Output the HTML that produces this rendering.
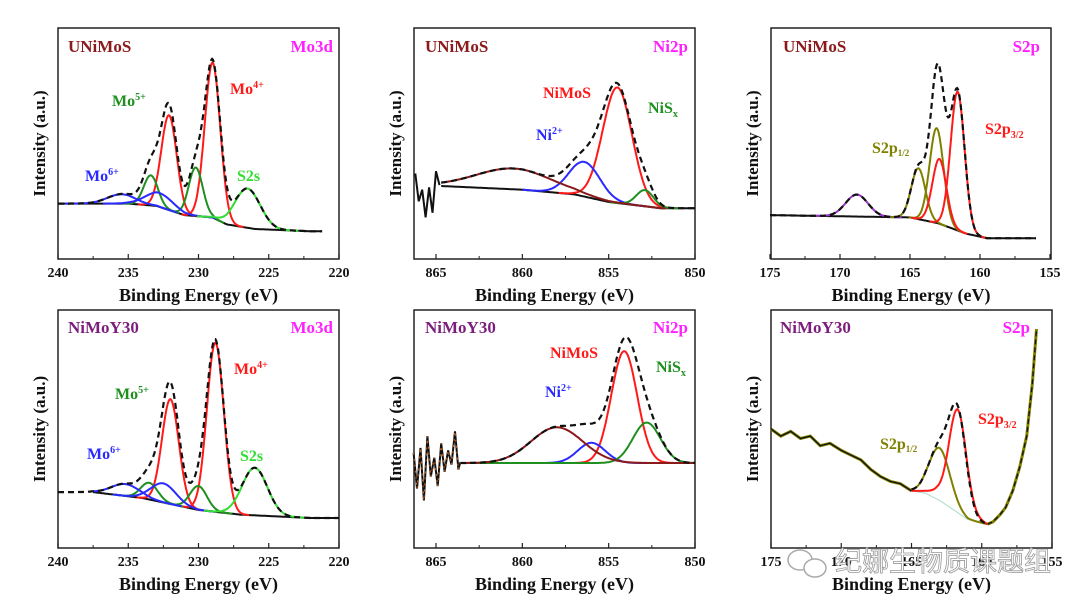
<!DOCTYPE html>
<html><head><meta charset="utf-8">
<style>
html,body{margin:0;padding:0;background:#fff;}
svg{display:block;}
text{font-family:"Liberation Serif","Noto Serif CJK SC",serif;font-weight:bold;}
</style></head>
<body>
<svg id="fig" width="1080" height="608" viewBox="0 0 1080 608" xmlns="http://www.w3.org/2000/svg"></svg>
<script>
// ===== Data (binding energy eV, normalized intensity 0..1) =====
const p1Ticks=[240,235,230,225,220];
const p1Baseline=[[240,0.24],[235,0.24],[233,0.23],[231,0.19],[229,0.18],[228,0.15],[226,0.13],[222,0.12],[221.2,0.12]];
const p1Centers=[229.0,232.1,233.4,230.2,235.5,232.8,226.5];
const p1Amps=[0.67,0.41,0.13,0.21,0.04,0.06,0.17];
const p1Sigmas=[0.55,0.55,0.5,0.5,1.0,1.0,0.9];

const p2Ticks=[865,860,855,850];
const p2Baseline=[[864.7,0.316],[860,0.30],[857,0.28],[855,0.247],[852,0.22],[850,0.22]];
const p2Centers=[854.5,856.4,852.9,860.5];
const p2Amps=[0.50,0.15,0.07,0.09];
const p2Sigmas=[0.85,0.9,0.5,2.2];

const p3Ticks=[175,170,165,160,155];
const p3Baseline=[[175,0.19],[165,0.18],[163,0.155],[161,0.11],[159.5,0.09],[156,0.09]];
const p3Centers=[168.8,164.4,163.1,162.9,161.6];
const p3Amps=[0.095,0.22,0.41,0.28,0.60];
const p3Sigmas=[0.8,0.5,0.5,0.5,0.5];

const p4Ticks=[240,235,230,225,220];
const p4Baseline=[[240,0.235],[237.5,0.235],[234,0.21],[230,0.16],[227,0.14],[222,0.126],[220,0.126]];
const p4Centers=[228.8,232.0,233.5,230.0,235.2,232.5,226.0];
const p4Amps=[0.71,0.44,0.07,0.10,0.05,0.08,0.20];
const p4Sigmas=[0.6,0.6,0.6,0.6,1.0,0.9,0.9];

const p5Ticks=[865,860,855,850];
const p5Baseline=[[863.6,0.357],[850,0.357]];
const p5Centers=[854.1,856.0,852.8,858.0];
const p5Amps=[0.47,0.085,0.17,0.15];
const p5Sigmas=[0.75,0.8,0.8,1.5];
const p5Noise=[[866.3,0.40],[866.1,0.25],[865.9,0.42],[865.7,0.20],[865.5,0.47],[865.3,0.30],[865.1,0.38],[864.9,0.26],[864.7,0.44],[864.5,0.32],[864.3,0.41],[864.1,0.35],[863.9,0.49],[863.7,0.33],[863.6,0.36]];

const p6Ticks=[175,170,165,160,155];
const p6Trace=[[175,0.50],[174.3,0.47],[173.6,0.49],[172.9,0.46],[172.2,0.47],[171.5,0.43],[170.8,0.44],[170,0.41],[169.3,0.39],[168.6,0.37],[167.9,0.33],[167.2,0.30],[166.5,0.28],[165.8,0.27],[165,0.24]];
const p6Rise=[[159.6,0.10],[159.2,0.11],[158.7,0.14],[158.3,0.17],[157.8,0.24],[157.3,0.34],[156.8,0.47],[156.4,0.69],[156.1,0.92]];
const p6Bg=[[165,0.24],[164,0.23],[163,0.20],[162,0.16],[161,0.12],[159.6,0.10]];
const p6RedBg=[[165,0.24],[163.2,0.24],[162.2,0.21],[161,0.14],[159.6,0.10]];
const p6Centers=[163.0,161.7];
const p6Amps=[0.22,0.40];
const p6Sigmas=[0.75,0.6];

// ===== helpers =====
const NS="http://www.w3.org/2000/svg";
const svg=document.getElementById('fig');
function mk(tag,attrs,parent){const e=document.createElementNS(NS,tag);for(const k in attrs)e.setAttribute(k,attrs[k]);(parent||svg).appendChild(e);return e;}
function interp(pts,x){const s=pts.slice().sort((a,b)=>a[0]-b[0]);if(x<=s[0][0])return s[0][1];if(x>=s[s.length-1][0])return s[s.length-1][1];for(let i=0;i<s.length-1;i++){if(x>=s[i][0]&&x<=s[i+1][0]){const t=(x-s[i][0])/(s[i+1][0]-s[i][0]);return s[i][1]+t*(s[i+1][1]-s[i][1]);}}return 0;}
function gauss(x,c,a,s){return a*Math.exp(-0.5*((x-c)/s)**2);}
function axes(P){return {X:e=>P.px0+(P.e0-e)/(P.e0-P.e1)*(P.px1-P.px0),Y:v=>P.by+P.bh-v*P.bh};}
function line(P,fn,e0,e1,style,name){const A=axes(P);let d='';const n=300;for(let i=0;i<=n;i++){const e=e0+(e1-e0)*i/n;d+=(i?'L':'M')+A.X(e).toFixed(1)+','+A.Y(fn(e)).toFixed(1);}const p=mk('path',Object.assign({d:d,fill:'none'},style),P.g);


return p;}
function poly(P,pts,style,name){const A=axes(P);const d=pts.map((p,i)=>(i?'L':'M')+A.X(p[0]).toFixed(1)+','+A.Y(p[1]).toFixed(1)).join('');const p=mk('path',Object.assign({d:d,fill:'none'},style),P.g);


return p;}
function txt(P,x,y,s,fill,size,anchor,name,sub){const t=mk('text',{x:x,y:y,fill:fill,'font-size':size,'text-anchor':anchor||'start'},P.g);t.textContent=s;


if(sub){const ts=mk('tspan',{'font-size':sub[2],dy:sub[1]},t);ts.textContent=sub[0];}return t;}
function frame(P,ticks,name){
  P.g=mk('g',{});
  
  
  const r=mk('rect',{x:P.bx,y:P.by,width:P.bw,height:P.bh,fill:'none',stroke:'#222','stroke-width':1.5},P.g);
  
  
  const A=axes(P);
  ticks.forEach(t=>{const x=A.X(t);
    const l=mk('line',{x1:x,x2:x,y1:P.by+P.bh,y2:P.by+P.bh-5,stroke:'#222','stroke-width':1.2},P.g);
    
    
    txt(P,x,P.by+P.bh+18,String(t),'#111',14,'middle','x-tick-label');
    const xm=A.X(t-(P.e0>P.e1?2.5:-2.5));
    if(xm>P.bx&&xm<P.bx+P.bw){const m=mk('line',{x1:xm,x2:xm,y1:P.by+P.bh,y2:P.by+P.bh-3,stroke:'#222','stroke-width':1},P.g);
      
      }
  });
  txt(P,P.bx+P.bw/2,P.by+P.bh+42,'Binding Energy (eV)','#111',18,'middle','x-axis-title');
  const yt=mk('text',{x:0,y:0,fill:'#111','font-size':17,'text-anchor':'middle',transform:`translate(${P.bx-13},${P.by+P.bh/2}) rotate(-90)`},P.g);
  yt.textContent='Intensity (a.u.)';
  
  
}
const black={stroke:'#111','stroke-width':2};
const dash={stroke:'#111','stroke-width':2.2,'stroke-dasharray':'6,4'};
function comp(col){return {stroke:col,'stroke-width':2};}

// ===== Panel 1 =====
(function(){
const P={bx:58,by:28,bw:281,bh:231,e0:240,e1:220,px0:58,px1:339};
frame(P,p1Ticks,'panel-unimos-mo3d');
const cols=['#ff1a1a','#ff1a1a','#1f8f1f','#1f8f1f','#2a2aff','#2a2aff','#33dd33'];
const bg=e=>interp(p1Baseline,e);
line(P,bg,240,221.2,black,'baseline');
p1Centers.forEach((c,i)=>line(P,e=>bg(e)+gauss(e,c,p1Amps[i],p1Sigmas[i]),Math.min(240,c+4*p1Sigmas[i]),Math.max(221.2,c-4*p1Sigmas[i]),comp(cols[i]),'fit-component'));
line(P,e=>bg(e)+p1Centers.reduce((s,c,i)=>s+gauss(e,c,p1Amps[i],p1Sigmas[i]),0),240,221.2,dash,'fit-envelope');
txt(P,68,52,'UNiMoS','#8b1a1a',17,'start','sample-label');
txt(P,333,52,'Mo3d','#ff22ff',17,'end','region-label');
txt(P,230,94,'Mo','#ff1a1a',16,'start','mo4-label',['4+',-6,10]);
txt(P,112,106,'Mo','#1f8f1f',16,'start','mo5-label',['5+',-6,10]);
txt(P,85,181,'Mo','#2a2aff',16,'start','mo6-label',['6+',-6,10]);
txt(P,237,181,'S2s','#33dd33',16,'start','s2s-label');
})();

// ===== Panel 2 =====
(function(){
const P={bx:414,by:28,bw:281,bh:231,e0:865,e1:850,px0:436,px1:695};
frame(P,p2Ticks,'panel-unimos-ni2p');
const cols=['#ff1a1a','#2a2aff','#1f8f1f','#8b1a1a'];
const bg=e=>interp(p2Baseline,e);
line(P,bg,864.7,850,black,'baseline');
p2Centers.forEach((c,i)=>line(P,e=>bg(e)+gauss(e,c,p2Amps[i],p2Sigmas[i]),Math.min(864.7,c+4*p2Sigmas[i]),Math.max(850,c-4*p2Sigmas[i]),comp(cols[i]),'fit-component'));
line(P,e=>bg(e)+p2Centers.reduce((s,c,i)=>s+gauss(e,c,p2Amps[i],p2Sigmas[i]),0),864.7,850,dash,'fit-envelope');
poly(P,[[866.2,0.37],[866,0.25],[865.8,0.30],[865.6,0.18],[865.4,0.31],[865.2,0.20],[865,0.38],[864.8,0.32]],{stroke:'#111','stroke-width':2},'raw-data-start');
txt(P,425,52,'UNiMoS','#8b1a1a',17,'start','sample-label');
txt(P,688,52,'Ni2p','#ff22ff',17,'end','region-label');
txt(P,543,98,'NiMoS','#ff1a1a',16,'start','nimos-label');
txt(P,536,140,'Ni','#2a2aff',16,'start','ni2-label',['2+',-6,10]);
txt(P,648,113,'NiS','#1f8f1f',16,'start','nisx-label',['x',4,10]);
})();

// ===== Panel 3 =====
(function(){
const P={bx:771,by:28,bw:280,bh:231,e0:175,e1:155,px0:770,px1:1050};
frame(P,p3Ticks,'panel-unimos-s2p');
const cols=['#9933cc','#808000','#808000','#ff1a1a','#ff1a1a'];
const bg=e=>interp(p3Baseline,e);
line(P,bg,175,156,black,'baseline');
p3Centers.forEach((c,i)=>line(P,e=>bg(e)+gauss(e,c,p3Amps[i],p3Sigmas[i]),Math.min(175,c+4*p3Sigmas[i]),Math.max(156,c-4*p3Sigmas[i]),comp(cols[i]),'fit-component'));
line(P,e=>bg(e)+p3Centers.reduce((s,c,i)=>s+gauss(e,c,p3Amps[i],p3Sigmas[i]),0),175,156,dash,'fit-envelope');
txt(P,783,52,'UNiMoS','#8b1a1a',17,'start','sample-label');
txt(P,1040,52,'S2p','#ff22ff',17,'end','region-label');
txt(P,872,153,'S2p','#808000',16,'start','s2p12-label',['1/2',3,9]);
txt(P,985,134,'S2p','#ff1a1a',16,'start','s2p32-label',['3/2',4,10]);
})();

// ===== Panel 4 =====
(function(){
const P={bx:58,by:310,bw:281,bh:238,e0:240,e1:220,px0:58,px1:339};
frame(P,p4Ticks,'panel-nimoy30-mo3d');
const cols=['#ff1a1a','#ff1a1a','#1f8f1f','#1f8f1f','#2a2aff','#2a2aff','#33dd33'];
const bg=e=>interp(p4Baseline,e);
line(P,bg,237.5,220,black,'baseline');
p4Centers.forEach((c,i)=>line(P,e=>bg(e)+gauss(e,c,p4Amps[i],p4Sigmas[i]),Math.min(237.5,c+4*p4Sigmas[i]),Math.max(220,c-4*p4Sigmas[i]),comp(cols[i]),'fit-component'));
line(P,e=>bg(e)+p4Centers.reduce((s,c,i)=>s+gauss(e,c,p4Amps[i],p4Sigmas[i]),0),240,220,dash,'fit-envelope');
txt(P,68,333,'NiMoY30','#7b1f7b',17,'start','sample-label');
txt(P,333,333,'Mo3d','#ff22ff',17,'end','region-label');
txt(P,234,374,'Mo','#ff1a1a',16,'start','mo4-label',['4+',-6,10]);
txt(P,115,399,'Mo','#1f8f1f',16,'start','mo5-label',['5+',-6,10]);
txt(P,87,459,'Mo','#2a2aff',16,'start','mo6-label',['6+',-6,10]);
txt(P,240,461,'S2s','#33dd33',16,'start','s2s-label');
})();

// ===== Panel 5 =====
(function(){
const P={bx:414,by:310,bw:281,bh:238,e0:865,e1:850,px0:436,px1:695};
frame(P,p5Ticks,'panel-nimoy30-ni2p');
const cols=['#ff1a1a','#2a2aff','#1f8f1f','#8b1a1a'];
const bg=e=>interp(p5Baseline,e);
p5Centers.forEach((c,i)=>line(P,e=>bg(e)+gauss(e,c,p5Amps[i],p5Sigmas[i]),863.6,850,comp(cols[i]),'fit-component'));
line(P,e=>bg(e)+p5Centers.reduce((s,c,i)=>s+gauss(e,c,p5Amps[i],p5Sigmas[i]),0),863.6,850,dash,'fit-envelope');
poly(P,p5Noise,{stroke:'#111','stroke-width':2},'raw-data-start');
poly(P,p5Noise,{stroke:'#d2691e','stroke-width':1,'stroke-dasharray':'2,4'},'raw-data-overlay');
txt(P,425,333,'NiMoY30','#7b1f7b',17,'start','sample-label');
txt(P,688,333,'Ni2p','#ff22ff',17,'end','region-label');
txt(P,550,358,'NiMoS','#ff1a1a',16,'start','nimos-label');
txt(P,545,397,'Ni','#2a2aff',16,'start','ni2-label',['2+',-6,10]);
txt(P,656,372,'NiS','#1f8f1f',16,'start','nisx-label',['x',4,10]);
})();

// ===== Panel 6 =====
(function(){
const P={bx:771,by:310,bw:281,bh:238,e0:175,e1:155,px0:771,px1:1052};
frame(P,p6Ticks,'panel-nimoy30-s2p');
const bg=e=>interp(p6Bg,e);
const rbg=e=>interp(p6RedBg,e);
poly(P,p6Trace,{stroke:'#808000','stroke-width':3},'raw-data-left-fit');
poly(P,p6Trace,{stroke:'#111','stroke-width':1.3},'raw-data-left');
poly(P,p6Rise,{stroke:'#808000','stroke-width':3},'raw-data-right-fit');
poly(P,p6Rise,{stroke:'#111','stroke-width':1.3,'stroke-dasharray':'5,3'},'raw-data-right');
line(P,bg,165,159.6,{stroke:'#a8dcc8','stroke-width':1},'background');
line(P,e=>bg(e)+gauss(e,p6Centers[0],p6Amps[0],p6Sigmas[0]),165,159.6,comp('#808000'),'s2p12-fit');
line(P,e=>rbg(e)+gauss(e,p6Centers[1],p6Amps[1],p6Sigmas[1]),165,159.6,comp('#ff1a1a'),'s2p32-fit');
line(P,e=>bg(e)+gauss(e,p6Centers[0],p6Amps[0],p6Sigmas[0])+gauss(e,p6Centers[1],p6Amps[1],p6Sigmas[1]),165,159.6,dash,'fit-envelope');
txt(P,780,333,'NiMoY30','#7b1f7b',17,'start','sample-label');
txt(P,1030,333,'S2p','#ff22ff',17,'end','region-label');
txt(P,880,449,'S2p','#808000',16,'start','s2p12-label',['1/2',3,9]);
txt(P,978,424,'S2p','#ff1a1a',16,'start','s2p32-label',['3/2',4,10]);
})();

// watermark
const wm=mk('g',{});


const c1=mk('ellipse',{cx:800,cy:560,rx:12,ry:10,fill:'#fff',stroke:'#aaa','stroke-width':1.5},wm);


const c2=mk('ellipse',{cx:815,cy:568,rx:11,ry:9,fill:'#fff',stroke:'#aaa','stroke-width':1.5},wm);


const wt=mk('text',{x:835,y:571,fill:'#fff',stroke:'#999','stroke-width':0.8,'font-size':27,style:'font-family:"Noto Sans CJK SC","WenQuanYi Zen Hei",sans-serif;font-weight:normal'},wm);
wt.textContent='纪娜生物质课题组';


</script>
</body></html>
